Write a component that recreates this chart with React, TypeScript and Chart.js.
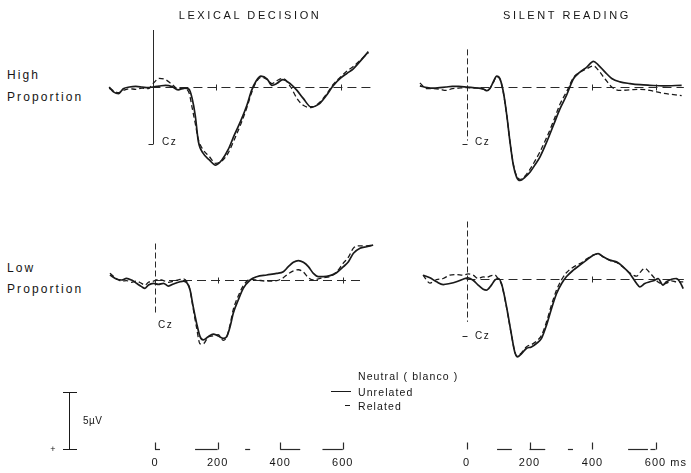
import React, { useEffect, useRef } from 'react';
import { Chart, registerables } from 'chart.js';
Chart.register(...registerables);

// ---------- DATA (time in ms, amplitude in µV, positive plotted downward) ----------
const tlTime = [-140, -125, -110, -95, -75, -55, -35, -15, 0, 20, 40, 60, 80, 100, 115, 125, 135, 145, 160, 180, 200, 220, 240, 260, 280, 300, 315, 330, 345, 365, 380, 395, 415, 440, 460, 480, 505, 530, 555, 575, 600, 620, 640, 660, 688];
const tlUnrelated = [0.0, 0.45, 0.58, 0.15, 0.0, -0.05, 0.0, 0.06, 0.0, -0.08, -0.15, -0.05, 0.25, 0.1, 0.2, 1.0, 2.5, 4.8, 5.8, 6.4, 6.85, 6.4, 5.5, 4.2, 3.0, 1.6, 0.3, -0.55, -0.95, -0.7, -0.15, -0.3, -0.65, -0.25, 0.3, 1.0, 1.75, 1.5, 0.7, -0.1, -0.8, -1.2, -1.6, -2.2, -3.1];
const tlRelated = [0.1, 0.35, 0.5, 0.3, 0.15, 0.2, 0.1, 0.15, -0.3, -0.75, -0.65, -0.25, 0.15, 0.15, 0.5, 1.8, 3.2, 4.6, 5.5, 6.1, 6.7, 6.5, 5.8, 4.6, 3.3, 1.8, 0.5, -0.45, -0.85, -0.65, -0.3, -0.55, -0.75, 0.0, 1.0, 1.6, 1.8, 1.4, 0.6, -0.2, -0.9, -1.4, -1.8, -2.3, -3.0];

const trTime = [-148, -125, -105, -85, -65, -45, -25, 0, 20, 40, 55, 65, 75, 85, 96, 106, 117, 128, 138, 149, 159, 170, 186, 202, 217, 233, 255, 276, 297, 318, 339, 360, 382, 403, 418, 440, 461, 487, 519, 551, 582, 625, 683];
const trUnrelated = [-0.1, 0.05, 0.1, 0.05, 0.0, -0.05, -0.05, 0.0, 0.05, 0.1, 0.2, 0.32, 0.1, -0.44, -0.96, -0.73, 0.44, 2.5, 4.8, 6.9, 7.9, 8.2, 7.9, 7.45, 6.85, 6.15, 4.8, 3.35, 1.9, 0.7, -0.7, -1.3, -1.75, -2.25, -1.95, -1.3, -0.75, -0.45, -0.3, -0.2, -0.15, -0.1, -0.15];
const trRelated = [-0.35, 0.15, 0.15, 0.2, 0.3, 0.15, 0.1, 0.05, 0.1, 0.1, 0.2, 0.3, 0.1, -0.4, -0.9, -0.7, 0.5, 2.5, 4.8, 6.8, 7.8, 8.1, 7.8, 7.2, 6.5, 5.7, 4.4, 3.0, 1.5, 0.4, -0.8, -1.3, -1.6, -1.85, -1.5, -0.7, 0.0, 0.3, 0.25, 0.2, 0.3, 0.55, 0.75];

const blTime = [-144, -122, -106, -91, -75, -59, -43, -32, -21, -5, 11, 27, 43, 59, 80, 91, 103, 112, 122, 133, 144, 154, 170, 186, 202, 218, 229, 240, 250, 266, 282, 304, 325, 357, 389, 410, 426, 442, 458, 474, 490, 506, 522, 538, 559, 580, 602, 618, 634, 655, 676, 697];
const blUnrelated = [-0.44, -0.06, 0.0, -0.15, 0.0, 0.29, 0.58, 0.73, 0.44, 0.29, 0.38, 0.29, 0.53, 0.35, 0.15, 0.09, 0.29, 0.88, 2.34, 3.8, 4.97, 5.26, 4.97, 4.74, 4.91, 5.12, 4.97, 4.09, 2.92, 1.75, 0.73, 0.0, -0.29, -0.44, -0.58, -0.73, -1.17, -1.55, -1.7, -1.55, -1.17, -0.58, -0.29, -0.29, -0.38, -0.64, -1.17, -1.61, -2.34, -2.78, -2.92, -3.07];
const blRelated = [-0.6, -0.1, 0.1, 0.05, 0.2, 0.1, 0.3, 0.45, 0.2, 0.1, -0.05, 0.05, 0.2, 0.1, -0.05, -0.1, 0.2, 0.9, 2.5, 4.2, 5.6, 5.6, 5.0, 4.9, 4.8, 5.3, 5.0, 3.9, 2.6, 1.4, 0.5, -0.05, 0.0, 0.1, 0.05, -0.2, -0.55, -0.8, -0.9, -0.7, -0.2, 0.0, -0.1, -0.2, -0.3, -0.7, -1.5, -2.0, -2.8, -3.0, -3.0, -3.05];

const brTime = [-138, -116, -95, -74, -53, -32, -11, 5, 21, 37, 53, 63, 79, 90, 101, 111, 122, 132, 143, 153, 161, 175, 190, 206, 222, 238, 254, 270, 286, 302, 317, 339, 360, 381, 402, 418, 434, 455, 476, 497, 518, 540, 550, 566, 582, 598, 608, 624, 635, 651, 667, 677, 688];
const brUnrelated = [-0.29, -0.06, 0.29, 0.53, 0.44, 0.29, 0.06, -0.06, 0.15, 0.58, 0.94, 1.02, 0.58, 0.15, 0.0, 0.44, 1.75, 3.22, 4.97, 6.43, 6.87, 6.58, 6.14, 6.0, 5.7, 5.26, 4.09, 2.63, 1.32, 0.44, -0.15, -0.73, -1.17, -1.61, -2.05, -2.19, -1.9, -1.61, -1.46, -1.02, -0.44, 0.44, 0.73, 0.44, 0.29, 0.15, 0.0, 0.58, 0.29, 0.06, 0.0, 0.29, 0.88];
const brRelated = [-0.3, 0.4, 0.1, 0.0, -0.3, -0.35, -0.3, -0.4, -0.3, 0.0, -0.15, -0.1, -0.25, -0.3, 0.05, 0.5, 1.8, 3.3, 5.0, 6.4, 6.8, 6.5, 6.0, 5.8, 5.5, 5.0, 3.8, 2.3, 1.0, 0.1, -0.5, -1.0, -1.3, -1.7, -2.05, -2.15, -1.9, -1.6, -1.4, -1.0, -0.5, -0.2, -0.5, -0.9, -0.5, 0.0, 0.3, 0.45, 0.4, 0.2, 0.3, 0.3, 0.3];

const timeTicks = [0, 200, 400, 600];
const timeTickLabels = ['0', '200', '400', '600'];
// broken time-axis segments (ms) as printed under each column
const leftAxisSegments = [[0, 16], [128, 200], [288, 304], [400, 464], [535, 600]];
const rightAxisSegments = [[97, 144], [200, 250], [322, 338], [513, 576], [584, 600]];
const columnTitles = ['LEXICAL DECISION', 'SILENT READING'];
const rowLabels = [['High', 'Proportion'], ['Low', 'Proportion']];
const legendLabels = ['Neutral ( blanco )', 'Unrelated', 'Related'];
const calibrationUv = 5;
const electrode = 'Cz';

// ---------- LAYOUT ----------
const FONT = '"Liberation Sans", Arial, Helvetica, sans-serif';
const PX_UV = 11.4;
const INK = '#1a1a1a';

type Panel = {
  key: string; times: number[]; unrelated: number[]; related: number[];
  x0: number; y0: number; pxMs: number;
  left: number; top: number; width: number; height: number;
  calTop: number; calBottom: number; calDashed: boolean; capAt: number | null;
  baseStart: number; baseEnd: number; baseTicks: number[];
  axisY: number | null; axisSegments: number[][] | null; czX: number; czY: number;
};

const panels: Panel[] = [
  { key: 'tl', times: tlTime, unrelated: tlUnrelated, related: tlRelated, x0: 153, y0: 87, pxMs: 0.313,
    left: 95, top: 20, width: 290, height: 175, calTop: -5, calBottom: 5, calDashed: false, capAt: 5,
    baseStart: -5, baseEnd: 705, baseTicks: [200, 600], axisY: null, axisSegments: null, czX: 162, czY: 142 },
  { key: 'tr', times: trTime, unrelated: trUnrelated, related: trRelated, x0: 466.5, y0: 87, pxMs: 0.315,
    left: 405, top: 20, width: 286, height: 175, calTop: -3.3, calBottom: 4.7, calDashed: true, capAt: 5,
    baseStart: 0, baseEnd: 690, baseTicks: [400, 600], axisY: null, axisSegments: null, czX: 475, czY: 142 },
  { key: 'bl', times: blTime, unrelated: blUnrelated, related: blRelated, x0: 155, y0: 280, pxMs: 0.313,
    left: 95, top: 210, width: 290, height: 255, calTop: -3.2, calBottom: 2.9, calDashed: true, capAt: null,
    baseStart: 0, baseEnd: 655, baseTicks: [200, 600], axisY: 449, axisSegments: leftAxisSegments, czX: 158, czY: 325 },
  { key: 'br', times: brTime, unrelated: brUnrelated, related: brRelated, x0: 466.5, y0: 278.5, pxMs: 0.315,
    left: 405, top: 210, width: 286, height: 255, calTop: -5, calBottom: 3.8, calDashed: true, capAt: 5,
    baseStart: 0, baseEnd: 690, baseTicks: [400], axisY: 449, axisSegments: rightAxisSegments, czX: 475, czY: 336 },
];

function PanelChart({ p }: { p: Panel }) {
  const ref = useRef<HTMLCanvasElement>(null);
  useEffect(() => {
    if (!ref.current) return;
    const xmin = (p.left - p.x0) / p.pxMs;
    const xmax = (p.left + p.width - p.x0) / p.pxMs;
    const ymin = (p.top - p.y0) / PX_UV;
    const ymax = (p.top + p.height - p.y0) / PX_UV;
    const overlay = {
      id: 'overlay-' + p.key,
      beforeDatasetsDraw(chart: any) {
        const { ctx, scales } = chart;
        const x = scales.x, y = scales.y;
        const by = Math.round(y.getPixelForValue(0)) + 0.5;
        ctx.save();
        ctx.strokeStyle = '#2a2a2a';
        ctx.lineWidth = 1;
        // baseline
        ctx.setLineDash([9, 5]);
        ctx.beginPath();
        ctx.moveTo(x.getPixelForValue(p.baseStart), by);
        ctx.lineTo(x.getPixelForValue(p.baseEnd), by);
        ctx.stroke();
        ctx.setLineDash([]);
        for (const t of p.baseTicks) {
          const tx = Math.round(x.getPixelForValue(t)) + 0.5;
          ctx.beginPath(); ctx.moveTo(tx, by - 3); ctx.lineTo(tx, by + 3); ctx.stroke();
        }
        // calibration line at stimulus onset
        const cx = Math.round(x.getPixelForValue(0)) + 0.5;
        ctx.setLineDash(p.calDashed ? [6, 3] : []);
        ctx.beginPath();
        ctx.moveTo(cx, y.getPixelForValue(p.calTop));
        ctx.lineTo(cx, y.getPixelForValue(p.calBottom));
        ctx.stroke();
        ctx.setLineDash([]);
        if (p.capAt !== null) {
          const cy = Math.round(y.getPixelForValue(p.capAt)) + 0.5;
          ctx.beginPath(); ctx.moveTo(cx - 5, cy); ctx.lineTo(cx, cy); ctx.stroke();
        }
        // broken time axis under the lower panels
        if (p.axisY !== null && p.axisSegments) {
          const ay = p.axisY - p.top + 0.5;
          ctx.lineWidth = 1.2;
          for (const [a, b] of p.axisSegments) {
            ctx.beginPath();
            ctx.moveTo(x.getPixelForValue(a), ay);
            ctx.lineTo(x.getPixelForValue(b), ay);
            ctx.stroke();
          }
          for (const t of timeTicks) {
            const tx = Math.round(x.getPixelForValue(t)) + 0.5;
            ctx.beginPath(); ctx.moveTo(tx, ay - 7); ctx.lineTo(tx, ay); ctx.stroke();
          }
        }
        ctx.restore();
      },
    };
    const mk = (vals: number[]) => p.times.map((t, i) => ({ x: t, y: vals[i] }));
    const chart = new Chart(ref.current, {
      type: 'line',
      data: {
        datasets: [
          { label: legendLabels[1], data: mk(p.unrelated), borderColor: INK, borderWidth: 1.7, pointRadius: 0,
            cubicInterpolationMode: 'monotone', fill: false, clip: false } as any,
          { label: legendLabels[2], data: mk(p.related), borderColor: INK, borderWidth: 1.3, borderDash: [5, 3],
            pointRadius: 0, cubicInterpolationMode: 'monotone', fill: false, clip: false } as any,
        ],
      },
      options: {
        animation: false,
        responsive: false,
        maintainAspectRatio: false,
        devicePixelRatio: 1,
        events: [],
        layout: { padding: 0 },
        plugins: { legend: { display: false }, tooltip: { enabled: false }, title: { display: false } },
        scales: {
          x: { type: 'linear', display: false, min: xmin, max: xmax },
          y: { type: 'linear', display: false, reverse: true, min: ymin, max: ymax },
        },
      },
      plugins: [overlay],
    });
    return () => chart.destroy();
  }, [p]);
  return (
    <canvas ref={ref} width={p.width} height={p.height}
      style={{ position: 'absolute', left: p.left, top: p.top, width: p.width, height: p.height }} />
  );
}

function Txt({ x, y, children, size = 11, ls = 1, center = false }: any) {
  return (
    <div style={{
      position: 'absolute', left: x, top: y, fontSize: size, letterSpacing: ls, lineHeight: 1,
      whiteSpace: 'nowrap',
      transform: center ? 'translate(-50%, -50%)' : 'translateY(-50%)',
    }}>{children}</div>
  );
}

export default function App() {
  const bl = panels[2], br = panels[3];
  return (
    <div style={{ position: 'absolute', left: 0, top: 0, width: 691, height: 473, background: '#fff',
      fontFamily: FONT, color: '#151515', overflow: 'hidden' }}>
      {panels.map((p) => <PanelChart key={p.key} p={p} />)}

      <Txt x={250} y={15} size={11} ls={2.6} center>{columnTitles[0]}</Txt>
      <Txt x={567} y={15} size={11} ls={2.6} center>{columnTitles[1]}</Txt>

      <Txt x={7} y={75} size={12} ls={2.1}>{rowLabels[0][0]}</Txt>
      <Txt x={7} y={97} size={12} ls={2.1}>{rowLabels[0][1]}</Txt>
      <Txt x={7} y={268} size={12} ls={2.1}>{rowLabels[1][0]}</Txt>
      <Txt x={7} y={289} size={12} ls={2.1}>{rowLabels[1][1]}</Txt>

      {panels.map((p) => <Txt key={'cz' + p.key} x={p.czX} y={p.czY} size={10} ls={1.5}>{electrode}</Txt>)}

      {/* legend */}
      <Txt x={358} y={376} size={10.5} ls={1.1}>{legendLabels[0]}</Txt>
      <Txt x={358} y={392} size={10.5} ls={1.1}>{legendLabels[1]}</Txt>
      <Txt x={358} y={406} size={10.5} ls={1.1}>{legendLabels[2]}</Txt>
      <div style={{ position: 'absolute', left: 331, top: 391, width: 20, height: 0, borderTop: '1.5px solid ' + INK }} />
      <div style={{ position: 'absolute', left: 345, top: 405, width: 5, height: 0, borderTop: '1.5px solid ' + INK }} />

      {/* calibration bar */}
      <div style={{ position: 'absolute', left: 69, top: 392, width: 0, height: calibrationUv * PX_UV, borderLeft: '1.5px solid ' + INK }} />
      <div style={{ position: 'absolute', left: 63, top: 392, width: 14, height: 0, borderTop: '1px solid ' + INK }} />
      <div style={{ position: 'absolute', left: 63, top: 392 + calibrationUv * PX_UV, width: 14, height: 0, borderTop: '1px solid ' + INK }} />
      <Txt x={83} y={421} size={10} ls={0.5}>{calibrationUv}µV</Txt>
      <Txt x={53} y={449} size={9} ls={0} center>+</Txt>

      {/* time labels */}
      {timeTicks.map((t, i) => (
        <Txt key={'bl' + t} x={bl.x0 + t * bl.pxMs} y={462} size={11} ls={1} center>{timeTickLabels[i]}</Txt>
      ))}
      {timeTicks.map((t, i) => (
        <div key={'br' + t} style={{ position: 'absolute', left: br.x0 + t * br.pxMs, top: 462, fontSize: 11,
          letterSpacing: 1, lineHeight: 1, transform: 'translate(-50%, -50%)', whiteSpace: 'nowrap' }}>
          {timeTickLabels[i]}
          {i === timeTicks.length - 1 ? <span style={{ position: 'absolute', left: '100%', top: 0, whiteSpace: 'nowrap' }}>&nbsp;ms</span> : null}
        </div>
      ))}
    </div>
  );
}
